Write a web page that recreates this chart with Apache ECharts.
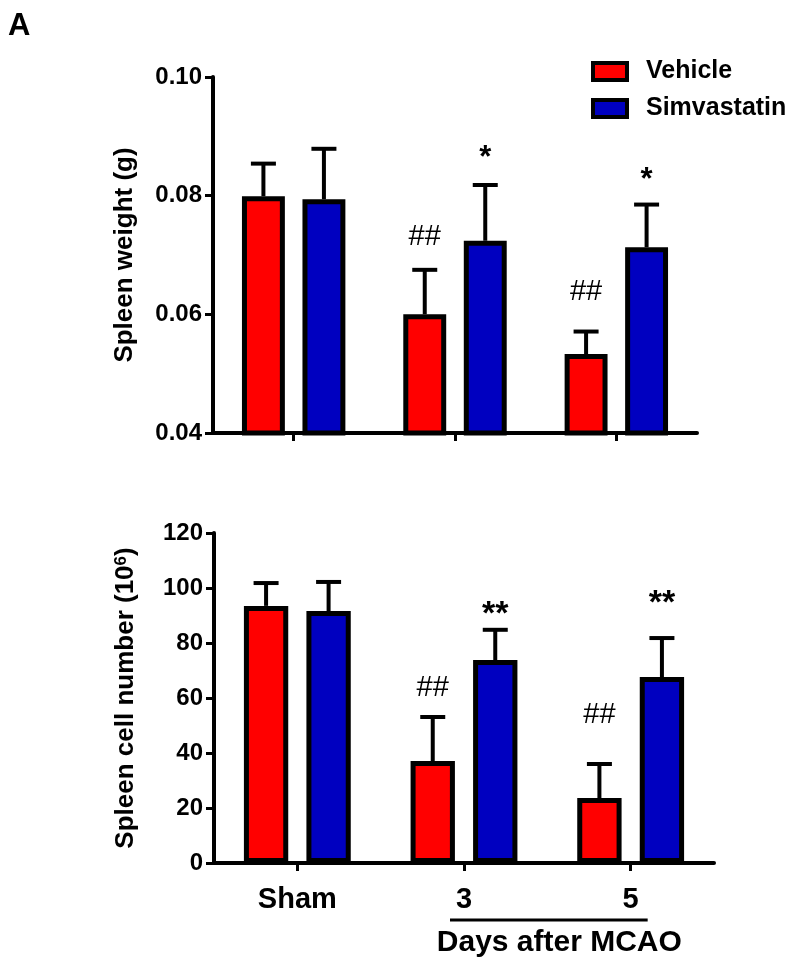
<!DOCTYPE html>
<html>
<head>
<meta charset="utf-8">
<script src="https://cdn.jsdelivr.net/npm/echarts@6/dist/echarts.min.js"></script>
<style>
  html, body { margin: 0; padding: 0; background: #fff; }
  #chart { width: 794px; height: 963px; }
</style>
</head>
<body>
<div id="chart"></div>
<script>
// ---------------- data ----------------
const categories = ['Sham', '3', '5'];

// Panel 1: spleen weight (g)
const vehicleWeight = [0.0799, 0.0600, 0.0533];
const vehicleWeightErr = [0.0055, 0.0075, 0.0038];
const simvaWeight = [0.0794, 0.0724, 0.0713];
const simvaWeightErr = [0.0085, 0.0094, 0.0072];
const weightTicks = [0.04, 0.06, 0.08, 0.10];

// Panel 2: spleen cell number (10^6)
const vehicleCells = [93.5, 37.1, 23.6];
const vehicleCellsErr = [8.3, 16.0, 12.4];
const simvaCells = [91.6, 73.8, 67.6];
const simvaCellsErr = [10.6, 11.0, 14.2];
const cellTicks = [0, 20, 40, 60, 80, 100, 120];

// significance marks: text and the value at which the mark sits
const sigVehicleWeight = ['', '##', '##'];
const sigVehicleWeightAt = [null, 0.0730, 0.0638];
const sigSimvaWeight = ['', '*', '*'];
const sigSimvaWeightAt = [null, 0.0862, 0.0825];
const sigVehicleCells = ['', '##', '##'];
const sigVehicleCellsAt = [null, 63.6, 53.8];
const sigSimvaCells = ['', '**', '**'];
const sigSimvaCellsAt = [null, 90.5, 94.5];

// ---------------- styling ----------------
const FONT = "'Liberation Sans', Arial, Helvetica, sans-serif";
const RED = '#FF0000';
const BLUE = '#0000C0';
const BAR_W = 0.266;  // fraction of band
const BAR_GAP = 0.41; // fraction of bar width

function errRender(side) {
  return function (params, api) {
    const i = api.value(0), v = api.value(1), e = api.value(2);
    const band = api.size([1, 0])[0];
    const off = side * band * BAR_W * (1 + BAR_GAP) / 2;
    const p0 = api.coord([i, v]);
    const p1 = api.coord([i, v + e]);
    const x = p0[0] + off;
    return {
      type: 'group',
      children: [
        { type: 'line', shape: { x1: x, y1: p0[1], x2: x, y2: p1[1] }, style: { stroke: '#000', lineWidth: 4 } },
        { type: 'line', shape: { x1: x - 12.5, y1: p1[1], x2: x + 12.5, y2: p1[1] }, style: { stroke: '#000', lineWidth: 4 } }
      ]
    };
  };
}

function sigRender(side, texts, fontSize, weight) {
  return function (params, api) {
    const i = api.value(0), v = api.value(1);
    const band = api.size([1, 0])[0];
    const off = side * band * BAR_W * (1 + BAR_GAP) / 2;
    const p = api.coord([i, v]);
    return {
      type: 'text',
      style: {
        x: p[0] + off, y: p[1], text: texts[i],
        align: 'center', verticalAlign: 'middle',
        fontSize: fontSize, fontWeight: weight, fontFamily: FONT, fill: '#000'
      }
    };
  };
}

function errData(vals, errs) { return vals.map((v, i) => [i, v, errs[i]]); }
function sigData(texts, at) {
  const out = [];
  texts.forEach((t, i) => { if (t) out.push([i, at[i]]); });
  return out;
}

function barSeries(name, color, data, gi) {
  return {
    name: name, type: 'bar', xAxisIndex: gi, yAxisIndex: gi, data: data,
    barWidth: (BAR_W * 100) + '%', barGap: (BAR_GAP * 100) + '%', z: 3,
    itemStyle: { color: color, borderColor: '#000', borderWidth: 5 },
    emphasis: { disabled: true }
  };
}
function customSeries(gi, data, render) {
  return { type: 'custom', xAxisIndex: gi, yAxisIndex: gi, data: data, renderItem: render, z: 2, silent: true };
}

const axisLineStyle = { lineStyle: { color: '#000', width: 4 } };
const tickStyle = { show: true, length: 8, lineStyle: { color: '#000', width: 3 } };

const chart = echarts.init(document.getElementById('chart'), null, { renderer: 'canvas' });

const option = {
  animation: false,
  backgroundColor: '#fff',
  grid: [
    { left: 213, top: 77, width: 484, height: 356 },
    { left: 214, top: 533, width: 500, height: 330 }
  ],
  legend: {
    orient: 'vertical', left: 591, top: 59, padding: 0,
    itemWidth: 34, itemHeight: 17, itemGap: 12, icon: 'rect',
    data: ['Vehicle', 'Simvastatin'],
    itemStyle: { borderColor: '#000', borderWidth: 4 },
    textStyle: { fontFamily: FONT, fontSize: 25, fontWeight: 'bold', color: '#000', padding: [0, 0, 0, 14], lineHeight: 24 },
    selectedMode: false
  },
  xAxis: [
    {
      type: 'category', gridIndex: 0, data: categories,
      axisLine: axisLineStyle,
      axisTick: Object.assign({ alignWithLabel: true }, tickStyle),
      axisLabel: { show: false }
    },
    {
      type: 'category', gridIndex: 1, data: categories,
      axisLine: axisLineStyle,
      axisTick: Object.assign({ alignWithLabel: true }, tickStyle),
      axisLabel: { fontFamily: FONT, fontSize: 29, fontWeight: 'bold', color: '#000', margin: 22 }
    }
  ],
  yAxis: [
    {
      type: 'value', gridIndex: 0, min: weightTicks[0], max: weightTicks[weightTicks.length - 1], interval: 0.02,
      axisLine: Object.assign({ show: true }, axisLineStyle),
      axisTick: tickStyle,
      splitLine: { show: false },
      axisLabel: { fontFamily: FONT, fontSize: 24, fontWeight: 'bold', color: '#000', margin: 11,
        formatter: v => v.toFixed(2) },
      name: 'Spleen weight (g)', nameLocation: 'middle', nameGap: 75, nameRotate: 90,
      nameTextStyle: { fontFamily: FONT, fontSize: 26, fontWeight: 'bold', color: '#000' }
    },
    {
      type: 'value', gridIndex: 1, min: cellTicks[0], max: cellTicks[cellTicks.length - 1], interval: 20,
      axisLine: Object.assign({ show: true }, axisLineStyle),
      axisTick: tickStyle,
      splitLine: { show: false },
      axisLabel: { fontFamily: FONT, fontSize: 24, fontWeight: 'bold', color: '#000', margin: 11 },
      name: 'Spleen cell number (10{sup|6})', nameLocation: 'middle', nameGap: 75, nameRotate: 90,
      nameTextStyle: {
        fontFamily: FONT, fontSize: 26, fontWeight: 'bold', color: '#000',
        rich: { sup: { fontFamily: FONT, fontSize: 17, fontWeight: 'bold', color: '#000', verticalAlign: 'top', padding: [0, 0, 8, 0] } }
      }
    }
  ],
  series: [
    barSeries('Vehicle', RED, vehicleWeight, 0),
    barSeries('Simvastatin', BLUE, simvaWeight, 0),
    customSeries(0, errData(vehicleWeight, vehicleWeightErr), errRender(-1)),
    customSeries(0, errData(simvaWeight, simvaWeightErr), errRender(1)),
    customSeries(0, sigData(sigVehicleWeight, sigVehicleWeightAt), sigRender(-1, sigVehicleWeight, 29, 'normal')),
    customSeries(0, sigData(sigSimvaWeight, sigSimvaWeightAt), sigRender(1, sigSimvaWeight, 31, 'bold')),

    barSeries('Vehicle', RED, vehicleCells, 1),
    barSeries('Simvastatin', BLUE, simvaCells, 1),
    customSeries(1, errData(vehicleCells, vehicleCellsErr), errRender(-1)),
    customSeries(1, errData(simvaCells, simvaCellsErr), errRender(1)),
    customSeries(1, sigData(sigVehicleCells, sigVehicleCellsAt), sigRender(-1, sigVehicleCells, 29, 'normal')),
    customSeries(1, sigData(sigSimvaCells, sigSimvaCellsAt), sigRender(1, sigSimvaCells, 34, 'bold'))
  ]
};
chart.setOption(option);

// bracket under the MCAO days and its caption
const x3 = chart.convertToPixel({ xAxisIndex: 1 }, '3');
const x5 = chart.convertToPixel({ xAxisIndex: 1 }, '5');
chart.setOption({
  graphic: [
    { type: 'text', left: 8, top: 11, style: { text: 'A', fontFamily: FONT, fontSize: 31, fontWeight: 'bold', fill: '#000' } },
    { type: 'line', shape: { x1: x3 - 14, y1: 920, x2: x5 + 17, y2: 920 }, style: { stroke: '#000', lineWidth: 3 } },
    { type: 'text', x: (x3 + x5) / 2 + 12, y: 943,
      style: { text: 'Days after MCAO', align: 'center', verticalAlign: 'middle', fontFamily: FONT, fontSize: 30, fontWeight: 'bold', fill: '#000' } }
  ]
});
</script>
</body>
</html>
